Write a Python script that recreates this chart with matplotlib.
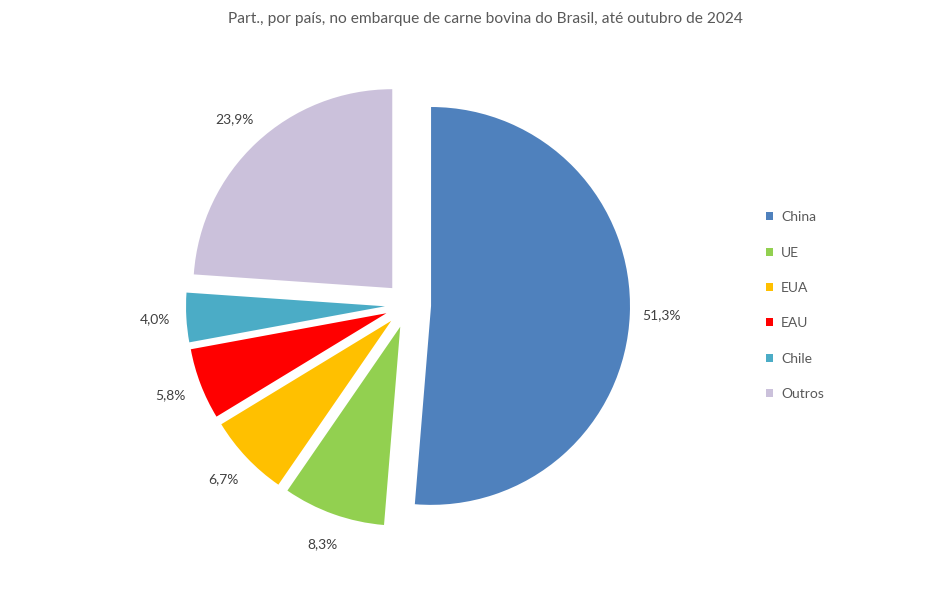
import matplotlib.pyplot as plt

plt.rcParams['font.family'] = ['Lato', 'DejaVu Sans']

paises = ['China', 'UE', 'EUA', 'EAU', 'Chile', 'Outros']
participacao = [51.3, 8.3, 6.7, 5.8, 4.0, 23.9]
cores = ['#4F81BD', '#92D050', '#FFC000', '#FF0000', '#4BACC6', '#CBC1DB']

fig = plt.figure(figsize=(9.48, 5.89), dpi=100)
# axes sized so the pie sits where it does in the original
w = 557 / 948
h = 557 / 589
ax = fig.add_axes([(408 - 278.5) / 948, (284 - 278.5) / 589, w, h])

wedges, texts, autotexts = ax.pie(
    participacao,
    colors=cores,
    startangle=90,
    counterclock=False,
    explode=[0.116] * len(participacao),
    autopct=lambda p: f'{p:.1f}%'.replace('.', ','),
    pctdistance=1.16,
    textprops={'fontsize': 10, 'color': '#404040'},
)
ax.set_xlim(-1.4, 1.4)
ax.set_ylim(-1.4, 1.4)
ax.set_aspect('equal')
ax.axis('off')

fig.text(485 / 948, 1 - 19 / 589, 'Part., por país, no embarque de carne bovina do Brasil, até outubro de 2024',
         ha='center', va='center', fontsize=11.2, color='#595959')

fig.legend(wedges, paises, loc='center left', bbox_to_anchor=(0.801, 0.481),
           frameon=False, fontsize=10, labelcolor='#595959',
           handlelength=0.5, handleheight=0.5, handletextpad=0.55,
           labelspacing=1.68, borderpad=0)

fig.savefig('out.png', dpi=100)
